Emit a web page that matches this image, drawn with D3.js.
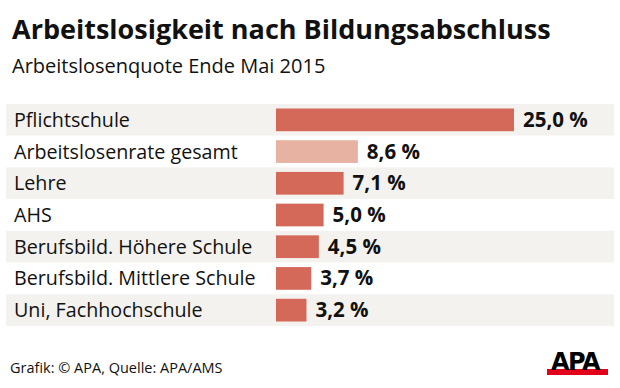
<!DOCTYPE html>
<html>
<head>
<meta charset="utf-8">
<script src="https://cdn.jsdelivr.net/npm/d3@7"></script>
<style>
  body { margin: 0; background: #fff; }
  svg { display: block; font-family: "Open Sans", sans-serif; }
</style>
</head>
<body>
<svg width="620" height="388"></svg>
<script>
var categories = ["Pflichtschule", "Arbeitslosenrate gesamt", "Lehre", "AHS",
                  "Berufsbild. Höhere Schule", "Berufsbild. Mittlere Schule", "Uni, Fachhochschule"];
var values = [25.0, 8.6, 7.1, 5.0, 4.5, 3.7, 3.2];
var highlight = [false, true, false, false, false, false, false];

var svg = d3.select("svg");

var scaleX = d3.scaleLinear()
               .domain([0, 25])
               .range([276, 514]);

var scaleY = d3.scaleBand()
               .domain(categories)
               .range([104, 326])
               .paddingInner(0);

var fmt = function(v) { return d3.format(".1f")(v).replace(".", ",") + " %"; };

// title
svg.append("text")
   .attr("x", 12).attr("y", 39)
   .attr("font-size", 27).attr("font-weight", "bold")
   .attr("fill", "#111")
   .text("Arbeitslosigkeit nach Bildungsabschluss");

svg.append("text")
   .attr("x", 12).attr("y", 73)
   .attr("font-size", 20)
   .attr("fill", "#111")
   .text("Arbeitslosenquote Ende Mai 2015");

// row backgrounds
svg.selectAll(".rowBg")
   .data(categories)
   .enter()
   .append("rect")
   .attr("class", "rowBg")
   .attr("x", 6)
   .attr("width", 608)
   .attr("y", function(d) { return scaleY(d); })
   .attr("height", scaleY.bandwidth())
   .attr("fill", function(d, i) { return i % 2 == 0 ? "#f4f2ee" : "#fff"; });

// bars
svg.selectAll(".bar")
   .data(values)
   .enter()
   .append("rect")
   .attr("class", "bar")
   .attr("x", scaleX(0))
   .attr("y", function(d, i) { return scaleY(categories[i]) + 4.5; })
   .attr("width", function(d) { return scaleX(d) - scaleX(0); })
   .attr("height", scaleY.bandwidth() - 9)
   .attr("fill", function(d, i) { return highlight[i] ? "#e8b2a3" : "#d4695a"; });

// category labels
svg.selectAll(".cat")
   .data(categories)
   .enter()
   .append("text")
   .attr("class", "cat")
   .attr("x", 14)
   .attr("y", function(d) { return scaleY(d) + scaleY.bandwidth() / 2 + 7; })
   .attr("font-size", 19.7)
   .attr("fill", "#111")
   .text(function(d) { return d; });

// value labels
svg.selectAll(".val")
   .data(values)
   .enter()
   .append("text")
   .attr("class", "val")
   .attr("x", function(d) { return scaleX(d) + 9; })
   .attr("y", function(d, i) { return scaleY(categories[i]) + scaleY.bandwidth() / 2 + 7; })
   .attr("font-size", 20.5)
   .attr("font-weight", "bold")
   .attr("fill", "#111")
   .text(function(d) { return fmt(d); });

// footer
svg.append("text")
   .attr("x", 10).attr("y", 373)
   .attr("font-size", 14.5)
   .attr("fill", "#111")
   .text("Grafik: © APA, Quelle: APA/AMS");

// logo
var logo = svg.append("g");
logo.append("rect")
    .attr("x", 547).attr("y", 369).attr("width", 61).attr("height", 6)
    .attr("fill", "#e2001a");
logo.append("text")
    .attr("x", 575).attr("y", 369.5)
    .attr("text-anchor", "middle")
    .attr("font-size", 24).attr("font-weight", 900)
    .attr("font-family", "'DejaVu Sans', sans-serif")
    .attr("letter-spacing", -1.5)
    .attr("fill", "#000")
    .text("APA");
</script>
</body>
</html>
